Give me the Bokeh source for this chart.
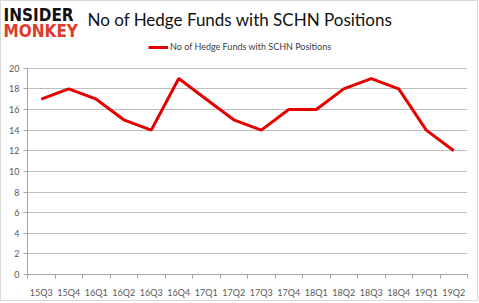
from bokeh.plotting import figure
from bokeh.layouts import column
from bokeh.models import Range1d, FixedTicker, Legend, LegendItem
from bokeh.core.properties import value
from bokeh.embed import file_html
from bokeh.resources import INLINE

quarters = ["15Q3", "15Q4", "16Q1", "16Q2", "16Q3", "16Q4", "17Q1", "17Q2",
            "17Q3", "17Q4", "18Q1", "18Q2", "18Q3", "18Q4", "19Q1", "19Q2"]
hedge_funds = [17, 18, 17, 15, 14, 19, 17, 15, 14, 16, 16, 18, 19, 18, 14, 12]
y_ticks = [0, 2, 4, 6, 8, 10, 12, 14, 16, 18, 20]
series_name = "No of Hedge Funds with SCHN Positions"
title_text = "No of Hedge Funds with SCHN Positions"

W = 476
HEAD_H = 39
CHART_H = 260

# ---- header: logo + title ----
head = figure(width=W, height=HEAD_H, output_backend="svg", toolbar_location=None,
              title=None, x_axis_location=None, y_axis_location=None,
              x_range=Range1d(0, W), y_range=Range1d(HEAD_H, 0),
              min_border=0, min_border_left=0, min_border_right=0,
              min_border_top=0, min_border_bottom=0)
head.frame_align = False
head.grid.visible = False
head.outline_line_color = None
head.background_fill_color = "white"
head.border_fill_color = "white"

head.text(x=[2], y=[3], text=["INSIDER"], text_font=value("DejaVu Sans Condensed"),
          text_font_style="bold", text_font_size="17px", text_color="#111111",
          text_baseline="top")
head.text(x=[2], y=[19], text=["MONKEY"], text_font=value("DejaVu Sans Condensed"),
          text_font_style="bold", text_font_size="17px", text_color="#e03a2a",
          text_baseline="top")
head.text(x=[86], y=[18], text=[title_text], text_font=value("Lato"),
          text_font_size="17px", text_color="#111111", text_baseline="middle")

# ---- chart ----
xs = list(range(1, len(quarters) + 1))
FRAME_BOTTOM = 236   # px from chart top
PX_PER_UNIT = 10.4
y_top = 20 + (FRAME_BOTTOM - 20 * PX_PER_UNIT) / PX_PER_UNIT

p = figure(width=W, height=CHART_H, output_backend="svg", toolbar_location=None,
           title=None,
           x_range=Range1d(0.5, len(quarters) + 0.5), y_range=Range1d(0, y_top),
           min_border_left=26, min_border_right=10, min_border_top=0,
           min_border_bottom=CHART_H - FRAME_BOTTOM)
p.frame_align = False
p.outline_line_color = None
p.background_fill_color = "white"
p.border_fill_color = "white"

line = p.line(xs, hedge_funds, line_color="#e60000", line_width=3)

p.xaxis.ticker = FixedTicker(ticks=xs, minor_ticks=[x + 0.5 for x in range(0, len(quarters) + 1)])
p.xaxis.major_label_overrides = {x: q for x, q in zip(xs, quarters)}
p.xaxis.major_tick_line_color = None
p.xaxis.minor_tick_in = 0
p.xaxis.minor_tick_out = 4
p.xaxis.minor_tick_line_color = "#a6a6a6"
p.xaxis.axis_line_color = "#a6a6a6"
p.xaxis.major_label_text_font = "Lato"
p.xaxis.major_label_text_font_size = "9px"
p.xaxis.major_label_text_color = "#595959"
p.xaxis.major_label_standoff = 6

p.yaxis.ticker = FixedTicker(ticks=y_ticks)
p.yaxis.bounds = (0, 20)
p.yaxis.minor_tick_line_color = None
p.yaxis.major_tick_in = 0
p.yaxis.major_tick_out = 4
p.yaxis.major_tick_line_color = "#a6a6a6"
p.yaxis.axis_line_color = "#a6a6a6"
p.yaxis.major_label_text_font = "Lato"
p.yaxis.major_label_text_font_size = "9px"
p.yaxis.major_label_text_color = "#595959"
p.yaxis.major_label_standoff = 4

p.xgrid.grid_line_color = None
p.ygrid.grid_line_color = "#bfbfbf"
p.ygrid.grid_line_width = 1

legend = Legend(items=[LegendItem(label=series_name, renderers=[line])],
                location=(121, 222), orientation="horizontal",
                label_text_font="Lato", label_text_font_size="9px",
                label_text_color="#404040", glyph_width=20, glyph_height=8,
                label_standoff=2, label_height=10, padding=0, margin=0, spacing=0,
                border_line_color=None, background_fill_alpha=0)
p.add_layout(legend, "center")

layout = column(head, p, spacing=0,
                styles={"border": "1px solid #d9d9d9", "background-color": "white"})
open("out.html", "w").write(file_html(layout, INLINE))
